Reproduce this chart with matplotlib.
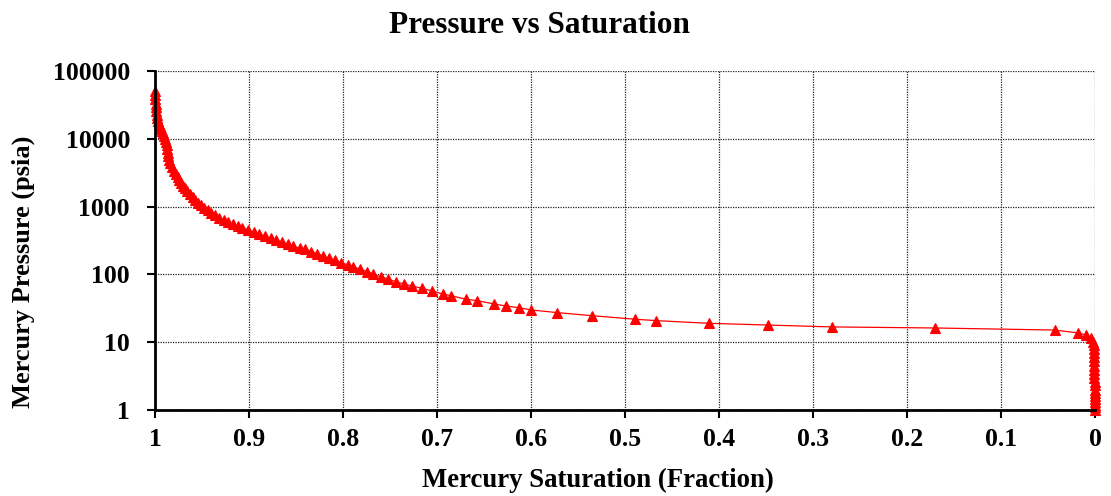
import matplotlib
matplotlib.use("Agg")
import matplotlib.pyplot as plt
from matplotlib.ticker import FixedLocator, FixedFormatter

# mercury injection data
saturation = [
    1.000, 1.000, 0.9995, 0.999, 0.999, 0.9985, 0.998, 0.9975, 0.997, 0.996,
    0.995, 0.994, 0.993, 0.992, 0.990, 0.989, 0.988, 0.9875, 0.987, 0.9865,
    0.986, 0.985, 0.984, 0.982, 0.980, 0.978, 0.976, 0.974, 0.972, 0.970,
    0.968, 0.966, 0.963, 0.960, 0.957, 0.954, 0.951, 0.948, 0.944, 0.940,
    0.936, 0.932, 0.927, 0.922, 0.917, 0.912, 0.907, 0.901, 0.895, 0.889,
    0.883, 0.877, 0.871, 0.865, 0.859, 0.853,
    0.846, 0.840, 0.834, 0.828, 0.821, 0.815, 0.809, 0.802, 0.795, 0.789,
    0.782, 0.774, 0.768, 0.760, 0.752, 0.744, 0.735, 0.727, 0.716, 0.705,
    0.694, 0.685, 0.669, 0.657, 0.639, 0.627, 0.613, 0.600, 0.572, 0.535,
    0.489, 0.467, 0.411, 0.348, 0.280, 0.170, 0.043, 0.018, 0.0096, 0.0043,
    0.002, 0.0015, 0.001, 0.001, 0.001, 0.001, 0.0008, 0.0008, 0.0006, 0.0006,
    0.0005, 0.0004, 0.0004, 0.0003, 0.0002, 0.0002, 0.0001, 0.0001, 0.0, 0.0,
]
pressure = [
    50000, 44000, 38000, 33000, 29000, 25500, 22500, 20000, 18000, 16500,
    15200, 14000, 13000, 12000, 11000, 10000, 9000, 8000, 7000, 6200,
    5500, 4900, 4400, 3900, 3400, 3050, 2750, 2480, 2220, 2020,
    1850, 1690, 1520, 1380, 1250, 1130, 1040, 960, 880, 800,
    740, 685, 635, 590, 550, 515, 485, 450, 420, 392,
    366, 342, 320, 300, 280, 262,
    243, 237, 216, 202, 187, 173, 163, 149, 138, 130,
    119, 110, 101, 92.5, 85.5, 78, 72, 67.4, 62.4, 56.9,
    51.4, 48.5, 43, 40.9, 36.6, 34.2, 32.3, 29.9, 27.3, 24.6,
    21.8, 20.8, 19.0, 17.9, 16.8, 16.2, 15.1, 13.7, 12.8, 11.5,
    10.0, 9.0, 8.0, 7.0, 6.0, 5.2, 4.5, 3.9, 3.4, 3.0,
    2.6, 2.3, 2.0, 1.8, 1.6, 1.45, 1.3, 1.2, 1.1, 1.0,
]

x_ticks = [1, 0.9, 0.8, 0.7, 0.6, 0.5, 0.4, 0.3, 0.2, 0.1, 0]
x_labels = ["1", "0.9", "0.8", "0.7", "0.6", "0.5", "0.4", "0.3", "0.2", "0.1", "0"]
y_ticks = [1, 10, 100, 1000, 10000, 100000]
y_labels = ["1", "10", "100", "1000", "10000", "100000"]

plt.rcParams["font.family"] = ["Liberation Serif", "DejaVu Serif"]
plt.rcParams["font.weight"] = "bold"

fig = plt.figure(figsize=(11.11, 4.96), dpi=100)
ax = fig.add_axes([0.1395, 0.1734, 0.8461, 0.6835])

ax.plot(saturation, pressure, color="red", linewidth=0.9, marker="^",
        markersize=7.5, markeredgewidth=0.8, clip_on=False, zorder=3)

ax.set_yscale("log")
ax.set_xlim(1, 0)
ax.set_ylim(1, 100000)

ax.xaxis.set_major_locator(FixedLocator(x_ticks))
ax.xaxis.set_major_formatter(FixedFormatter(x_labels))
ax.yaxis.set_major_locator(FixedLocator(y_ticks))
ax.yaxis.set_major_formatter(FixedFormatter(y_labels))
ax.yaxis.set_minor_locator(FixedLocator([]))

ax.grid(True, which="major", color="#222222", linestyle=(0, (1, 1)), linewidth=0.9)
ax.set_axisbelow(True)

for side in ["top", "right"]:
    ax.spines[side].set_visible(False)
for side in ["left", "bottom"]:
    ax.spines[side].set_linewidth(2.0)
    ax.spines[side].set_zorder(4)

ax.tick_params(axis="both", direction="out", length=6, width=1.5,
               labelsize=18.5, colors="black")
ax.tick_params(axis="x", pad=7)
ax.tick_params(axis="y", pad=12)
for lbl in ax.get_xticklabels() + ax.get_yticklabels():
    lbl.set_fontweight("bold")

fig.text(0.486, 0.933, "Pressure vs Saturation", ha="center", va="baseline",
         fontsize=22.5, fontweight="bold")
fig.text(0.538, 0.018, "Mercury Saturation (Fraction)", ha="center", va="baseline",
         fontsize=19.3, fontweight="bold")
fig.text(0.021, 0.452, "Mercury Pressure (psia)", ha="center", va="center",
         rotation=90, fontsize=19, fontweight="bold")

fig.savefig("out.png", dpi=100, facecolor="white")
